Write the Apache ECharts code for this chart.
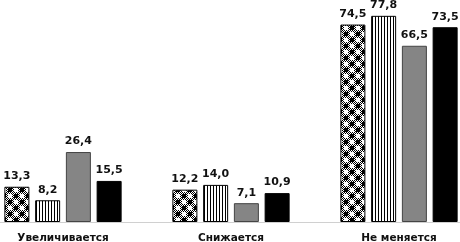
<!DOCTYPE html>
<html><head><meta charset="utf-8">
<script src="https://cdn.jsdelivr.net/npm/echarts@6/dist/echarts.min.js"></script>
<style>html,body{margin:0;padding:0;background:#fff}#c{width:460px;height:242px}</style>
</head><body><div id="c"></div>
<script>
const categories = ['Увеличивается', 'Снижается', 'Не меняется'];
const seriesA = [13.3, 12.2, 74.5];
const seriesB = [8.2, 14.0, 77.8];
const seriesC = [26.4, 7.1, 66.5];
const seriesD = [15.5, 10.9, 73.5];

function checkerPattern() {
  const c = document.createElement('canvas');
  c.width = 12; c.height = 12;
  const g = c.getContext('2d');
  g.fillStyle = '#fff'; g.fillRect(0,0,12,12);
  g.fillStyle = '#000';
  for (let y=0;y<12;y++) for (let x=0;x<12;x++) if ((x+y)%2===0) g.fillRect(x,y,1,1);
  g.fillStyle = '#000'; g.fillRect(2,2,4,4); g.fillRect(8,8,4,4);
  g.fillStyle = '#fff'; g.fillRect(8,2,4,4); g.fillRect(2,8,4,4);
  return c;
}
function stripePattern() {
  const c = document.createElement('canvas');
  c.width = 3; c.height = 4;
  const g = c.getContext('2d');
  g.fillStyle = '#fff'; g.fillRect(0,0,3,4);
  g.fillStyle = '#000'; g.fillRect(0,0,1,4);
  return c;
}

const chart = echarts.init(document.getElementById('c'));
const label = {show:true, position:'top', distance:5, fontFamily:'DejaVu Sans', fontWeight:'bold', fontSize:11, color:'#111', formatter: p => p.value.toFixed(1).replace('.', ',')};
function s(data, color, border) {
  return {type:'bar', data, barWidth:25, barGap:'23%', label,
    itemStyle:{color, borderColor:border, borderWidth:1}};
}
chart.setOption({
  animation:false,
  grid:{left:-21, right:-23, top:10, bottom:20, outerBoundsMode:'none', containLabel:false},
  xAxis:{type:'category', data:categories,
    axisLine:{lineStyle:{color:'#d0d0d0'}}, axisTick:{show:false},
    axisLabel:{fontFamily:'DejaVu Sans', fontWeight:'bold', fontSize:10.5, color:'#111', margin:11, interval:0}},
  yAxis:{type:'value', min:0, max:80, show:false, splitLine:{show:false}},
  series:[
    s(seriesA, {image: checkerPattern(), repeat:'repeat'}, '#000'),
    s(seriesB, {image: stripePattern(), repeat:'repeat'}, '#000'),
    s(seriesC, '#858585', '#444'),
    s(seriesD, '#000', '#000')
  ]
});
</script></body></html>
